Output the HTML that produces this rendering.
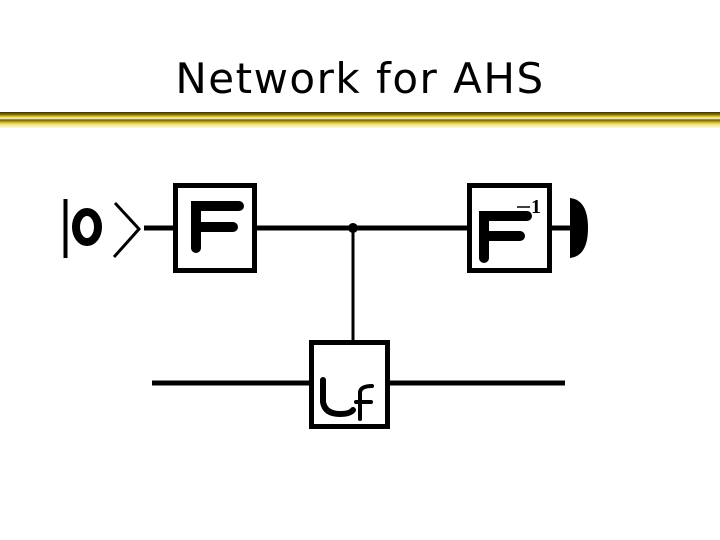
<!DOCTYPE html>
<html><head><style>
html,body{margin:0;padding:0;background:#fff;width:720px;height:540px;overflow:hidden}
.t{position:absolute;left:0;width:720px;top:54px;text-align:center;font-family:"Comic Sans MS","DejaVu Sans","Liberation Sans",sans-serif;font-size:42px;color:#000;letter-spacing:1.5px}
</style></head><body>
<div class="t">Network for AHS</div>
<svg width="720" height="540" style="position:absolute;left:0;top:0">
<defs>
<linearGradient id="g" x1="0" y1="0" x2="0" y2="1">
<stop offset="0" stop-color="#3a3000"/><stop offset="0.18" stop-color="#8a7a10"/>
<stop offset="0.3" stop-color="#e8d030"/><stop offset="0.4" stop-color="#fff8c0"/>
<stop offset="0.5" stop-color="#6a5a08"/><stop offset="0.62" stop-color="#c0a820"/>
<stop offset="0.75" stop-color="#f0e070"/><stop offset="1" stop-color="#fffbe0"/>
</linearGradient></defs>
<rect x="0" y="112" width="720" height="16" fill="url(#g)"/>
<g stroke="#000" fill="none">
<line x1="65.5" y1="199" x2="65.5" y2="258" stroke-width="4"/>
<ellipse cx="87" cy="227" rx="11" ry="15" stroke-width="8"/>
<polyline points="115,203 139,229 114,257" stroke-width="3"/>
<line x1="144" y1="228" x2="175" y2="228" stroke-width="5"/>
<rect x="175.5" y="185.5" width="79" height="85" stroke-width="5"/>
<line x1="257" y1="228" x2="467" y2="228" stroke-width="5"/>
<rect x="469.5" y="185.5" width="80" height="85" stroke-width="5"/>
<line x1="552" y1="228" x2="572" y2="228" stroke-width="5"/>
<line x1="353" y1="228" x2="353" y2="342" stroke-width="3"/>
<rect x="311.5" y="342.5" width="76" height="84" stroke-width="5"/>
<line x1="152" y1="383" x2="310" y2="383" stroke-width="5"/>
<line x1="389" y1="383" x2="565" y2="383" stroke-width="5"/>
<g stroke-width="10" stroke-linecap="round">
<path d="M196,248 V206 H239"/><path d="M196,227 H233"/>
<path d="M484,258 V216 H527"/><path d="M484,236 H520"/>
</g>
<path d="M323,380 V402 Q325,414 340,414 Q350,414 353,410" stroke-width="6" stroke-linecap="round"/>
<path d="M360,419 V392 Q361,386 372,386 M356,402 H371" stroke-width="4" stroke-linecap="round"/>
<line x1="517" y1="207" x2="530" y2="207" stroke-width="1.5"/>
</g>
<circle cx="353" cy="228" r="5" fill="#000"/>
<path d="M570,198 Q588,200 588,228 Q588,256 570,258 Z" fill="#000"/>
<text x="531" y="213" font-family="Liberation Serif,serif" font-size="20" font-weight="bold">1</text>
</svg>
</body></html>
